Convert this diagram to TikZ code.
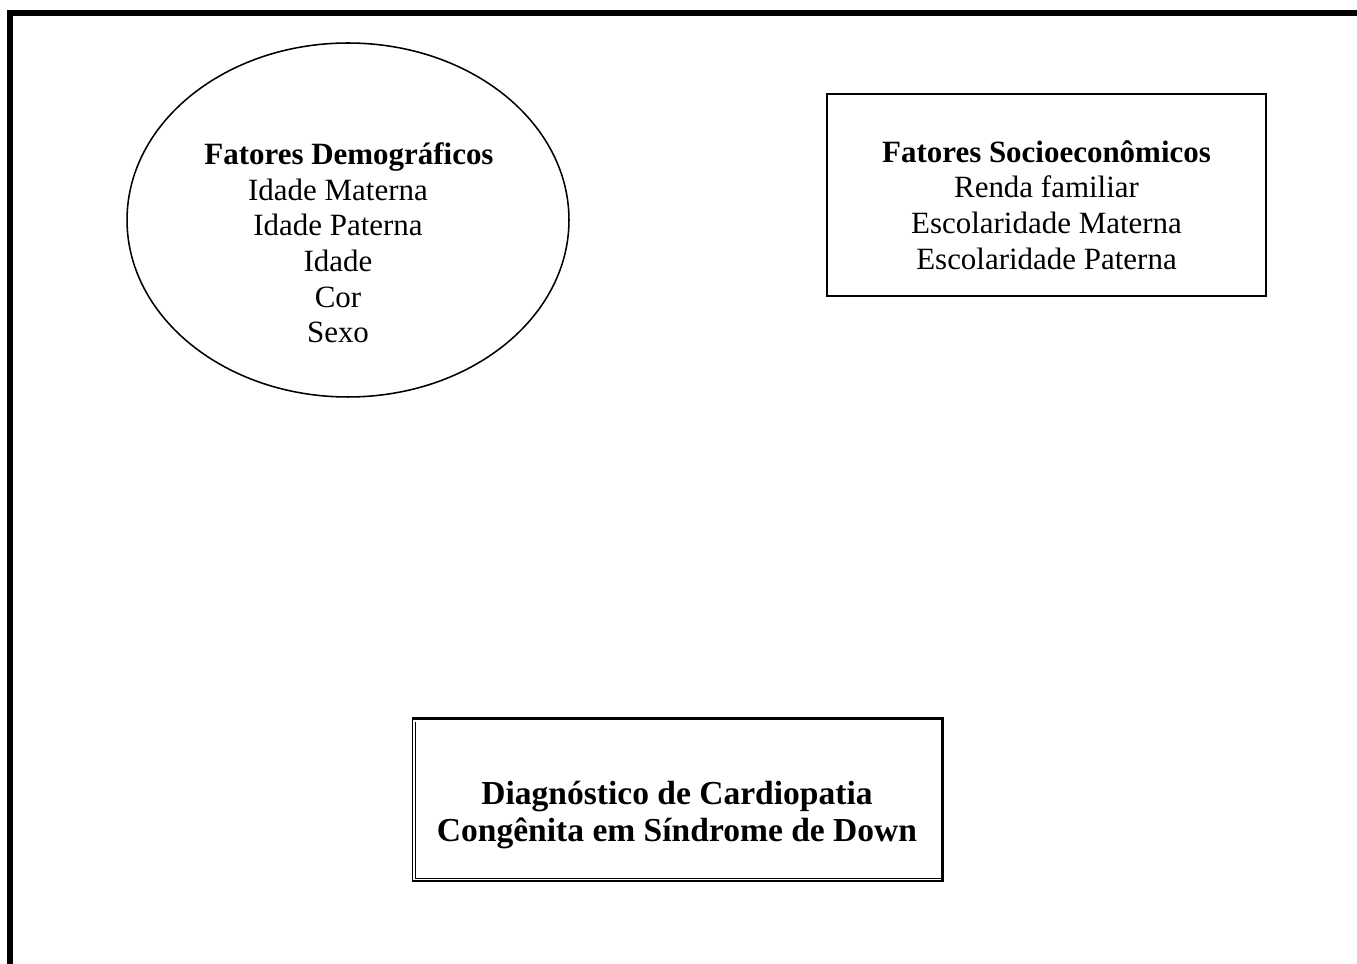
\documentclass[tikz,border=0pt]{standalone}
\usepackage{fontspec}
\setmainfont{Liberation Serif}
\usetikzlibrary{shapes.geometric}

\begin{document}
\begin{tikzpicture}[x=0.3876pt, y=-0.3876pt,
		txt/.style={align=center, inner sep=0pt, font=\fontsize{12}{13.8}\selectfont},
		oval/.style={shape=ellipse, draw=black, line width=0.6pt, minimum width=171.3pt, minimum height=137.2pt, inner sep=0pt},
		socbox/.style={shape=rectangle, draw=black, line width=0.8pt, minimum width=170.2pt, minimum height=78.3pt, inner sep=0pt},
		diagbox/.style={shape=rectangle, draw=black, line width=0.5pt, minimum width=205.2pt, minimum height=62.8pt, inner sep=0pt}]
			\useasboundingbox (0,0) rectangle (1357,964);
			
			% moldura
			\coordinate (fbl) at (10,964);
			\coordinate (ftl) at (10,13);
			\coordinate (ftr) at (1357,13);
			\draw[line width=2.3pt] (fbl) -- (ftl) -- (ftr);
			
			\node[oval] (demog) at (348,220) {};
			\node[txt] (demogtxt) at (338,243) {\hspace*{8.5pt}\textbf{Fatores Demográficos}\\Idade Materna\\Idade Paterna\\Idade\\Cor\\Sexo};
			
			\node[socbox] (socio) at (1046.5,195) {};
			\node[txt] (sociotxt) at (1046.5,205) {\textbf{Fatores Socioeconômicos}\\Renda familiar\\Escolaridade Materna\\Escolaridade Paterna};
			
			\node[diagbox] (diag) at (677.25,800) {};
			\draw[line width=1.3pt] (diag.north west) -- (diag.north east) -- (diag.south east);
			\draw[line width=0.5pt] ([shift={(3.5,3.5)}]diag.north west) -- ([shift={(3.5,-3.5)}]diag.south west) -- ([shift={(-2,-3.5)}]diag.south east);
			\node[txt, font=\fontsize{13}{14.3}\selectfont\bfseries] (diagtxt) at (677,815) {Diagnóstico de Cardiopatia\\Congênita em Síndrome de Down};
		\end{tikzpicture}
\end{document}
